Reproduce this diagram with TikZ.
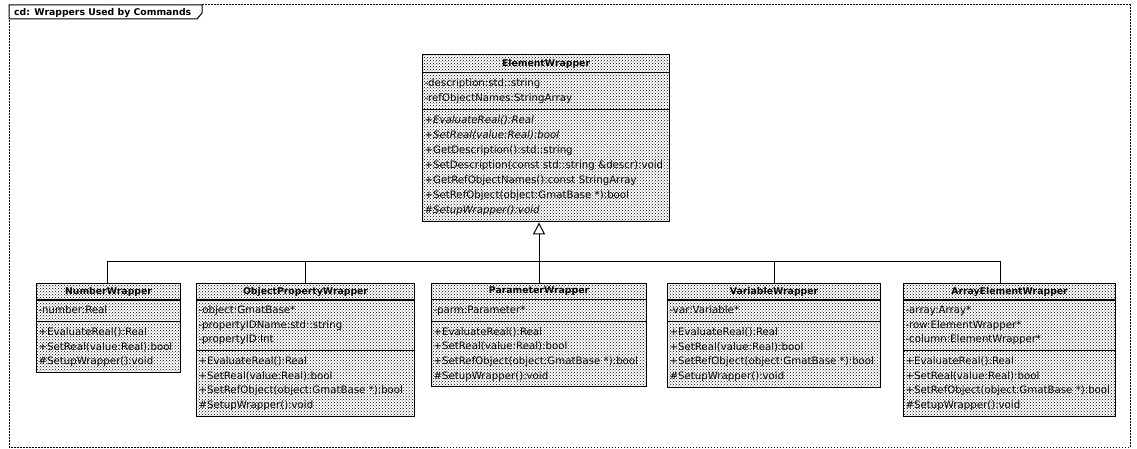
\documentclass[tikz,border=0pt]{standalone}
\usepackage{fontspec}
\setmainfont{DejaVu Sans}
\usetikzlibrary{shapes.multipart,patterns,arrows.meta}
\newcommand\bodyfont{\fontsize{10.2}{14.6}\selectfont}
\newcommand\ewfont{\fontsize{10.2}{15}\selectfont}
\newcommand\ctitle[1]{\makebox[\linewidth]{\fontsize{9.3}{11}\selectfont\bfseries\rule[-2.3pt]{0pt}{9pt}#1}}
\newcommand\ctitlebig[1]{\makebox[\linewidth]{\fontsize{9.3}{11}\selectfont\bfseries\rule[-2.8pt]{0pt}{11pt}#1}}
\newcommand\ab{\strut}
\begin{document}
\begin{tikzpicture}[x=1pt,y=-1pt,
  umlclass/.style={draw=black, line width=1.1pt, rectangle split, rectangle split parts=3,
    pattern=crosshatch dots, pattern color=black,
    inner xsep=2pt, inner ysep=3pt, align=left, font=\bodyfont, anchor=north west},
  conn/.style={draw=black, line width=0.9pt},
  framestyle/.style={draw=black, line width=1pt, dash pattern=on 1.5pt off 1.5pt},
  labelbox/.style={draw=black, line width=1pt}]
\useasboundingbox (0,0) rectangle (1137,449);

% frame
\draw[framestyle] (202,5) -- (1130,5) -- (1130,447) -- (9,447) -- (9,19);
\draw[labelbox] (9,19) -- (9,5) -- (202,5) -- (202,13) -- (197,19) -- cycle;
\node[font=\fontsize{9.3}{10}\selectfont\bfseries, anchor=west, inner sep=0pt] (lbl) at (14,12.5) {cd: Wrappers Used by Commands};

% base class
\node[umlclass, font=\ewfont, text width=243pt] (ew) at (422,54) {%
\ctitlebig{ElementWrapper}
\nodepart{two}\ab-description:std::string\\
\ab-refObjectNames:StringArray
\nodepart{three}\ab\textit{+EvaluateReal():Real}\\
\ab\textit{+SetReal(value:Real):bool}\\
\ab+GetDescription():std::string\\
\ab+SetDescription(const~std::string~\&descr):void\\
\ab+GetRefObjectNames():const~StringArray\\
\ab+SetRefObject(object:GmatBase~*):bool\\
\ab\textit{\#SetupWrapper():void}};

% derived classes
\node[umlclass, text width=140pt] (nw) at (36,283) {%
\ctitle{NumberWrapper}
\nodepart{two}\ab-number:Real
\nodepart{three}\ab+EvaluateReal():Real\\
\ab+SetReal(value:Real):bool\\
\ab\#SetupWrapper():void};

\node[umlclass, text width=214pt] (opw) at (196,283) {%
\ctitle{ObjectPropertyWrapper}
\nodepart{two}\ab-object:GmatBase*\\
\ab-propertyIDName:std::string\\
\ab-propertyID:Int
\nodepart{three}\ab+EvaluateReal():Real\\
\ab+SetReal(value:Real):bool\\
\ab+SetRefObject(object:GmatBase~*):bool\\
\ab\#SetupWrapper():void};

\node[umlclass, text width=211pt] (pw) at (431,283) {%
\ctitle{ParameterWrapper}
\nodepart{two}\ab-parm:Parameter*
\nodepart{three}\ab+EvaluateReal():Real\\
\ab+SetReal(value:Real):bool\\
\ab+SetRefObject(object:GmatBase~*):bool\\
\ab\#SetupWrapper():void};

\node[umlclass, text width=209pt] (vw) at (667,283) {%
\ctitle{VariableWrapper}
\nodepart{two}\ab-var:Variable*
\nodepart{three}\ab+EvaluateReal():Real\\
\ab+SetReal(value:Real):bool\\
\ab+SetRefObject(object:GmatBase~*):bool\\
\ab\#SetupWrapper():void};

\node[umlclass, text width=208pt] (aew) at (903,283) {%
\ctitle{ArrayElementWrapper}
\nodepart{two}\ab-array:Array*\\
\ab-row:ElementWrapper*\\
\ab-column:ElementWrapper*
\nodepart{three}\ab+EvaluateReal():Real\\
\ab+SetReal(value:Real):bool\\
\ab+SetRefObject(object:GmatBase~*):bool\\
\ab\#SetupWrapper():void};

% generalization tree
\coordinate (j) at (539,261);
\coordinate (busL) at (107,261);
\coordinate (busR) at (1000,261);
\draw[conn] (busL) -- (busR);
\draw[conn] (busL) -- (busL |- nw.north);
\draw[conn] (opw.north |- j) -- (opw.north);
\draw[conn] (j) -- (j |- pw.north);
\draw[conn] (vw.north |- j) -- (vw.north);
\draw[conn] (busR) -- (busR |- aew.north);
\draw[conn, -{Triangle[open, length=12pt, width=12pt, line width=1pt]}] (j) -- (j |- ew.south);
\end{tikzpicture}
\end{document}
